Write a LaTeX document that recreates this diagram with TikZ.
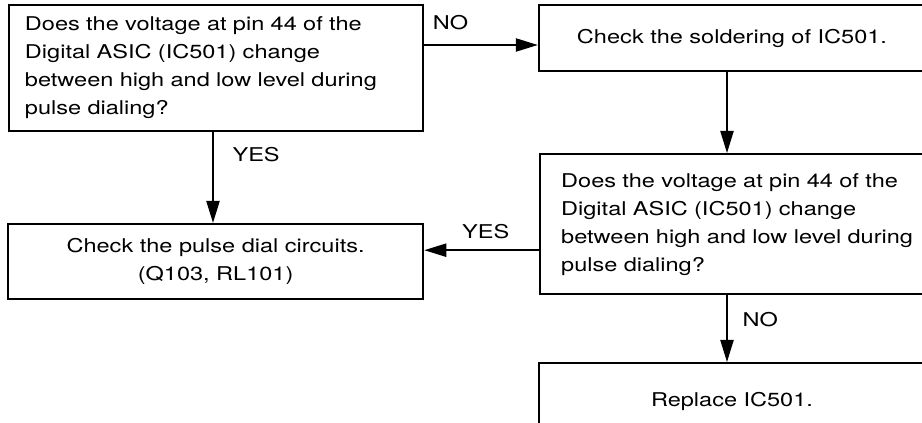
\documentclass[tikz,border=0pt]{standalone}
\usepackage{fontspec}
\setmainfont{TeX Gyre Heros}[FakeStretch=1.24]
\usetikzlibrary{arrows.meta, positioning}

\begin{document}
\begin{tikzpicture}[
  every node/.style={font=\fontsize{13.5}{19.9}\selectfont},
  box/.style={draw, line width=1.7pt, inner ysep=0pt, minimum width=9.65cm},
  qbox/.style={box, align=left, inner xsep=0.4cm},
  arr/.style={-{Triangle[length=5.5mm, width=3.3mm]}, line width=1.1pt},
  lbl/.style={inner sep=2pt},
]
  \useasboundingbox (0,0) rectangle (23.05,-10.575);
  \clip (0,0) rectangle (23.05,-10.575);

  % left column
  \node[qbox, text width=9.55cm, minimum height=3.15cm] (q1) at (5.4,-1.7)
    {Does the voltage at pin 44 of the\\Digital ASIC (IC501) change\\between high and low level during\\pulse dialing?};
  \node[box, align=center, minimum width=10.375cm, minimum height=1.875cm] (pulse) at (5.39,-6.54)
    {Check the pulse dial circuits.\\(Q103, RL101)};

  % right column
  \node[box, minimum height=1.65cm] (solder) at (18.3,-0.95) {Check the soldering of IC501.};
  \node[qbox, anchor=north west, text width=9.3cm, inner xsep=0.525cm, minimum height=3.5cm] (q2) at (13.475,-3.825)
    {Does the voltage at pin 44 of the\\Digital ASIC (IC501) change\\between high and low level during\\pulse dialing?};
  \node[box, anchor=north, text height=1.075cm, text depth=2cm] (replace) at (18.3,-9.05) {Replace IC501.};

  \coordinate (spine) at (18.175,0);

  \draw[arr] ([yshift=-0.175cm]solder.west -| q1.east) -- node[lbl, pos=0, above right=0.28cm and 0.13cm] {NO} ([yshift=-0.175cm]solder.west);
  \draw[arr] ([xshift=-0.075cm]q1.south) -- node[lbl, pos=0.25, right=0.4cm] {YES} ([xshift=-0.075cm]q1.south |- pulse.north);
  \draw[arr] (solder.south -| spine) -- (q2.north -| spine);
  \draw[arr] ([yshift=-0.65cm]q2.west) -- node[lbl, pos=0.465, above=0.2cm] {YES} ([yshift=-0.65cm]q2.west -| pulse.east);
  \draw[arr] (q2.south -| spine) -- node[lbl, pos=0.36, right=0.3cm] {NO} (replace.north -| spine);
\end{tikzpicture}
\end{document}
